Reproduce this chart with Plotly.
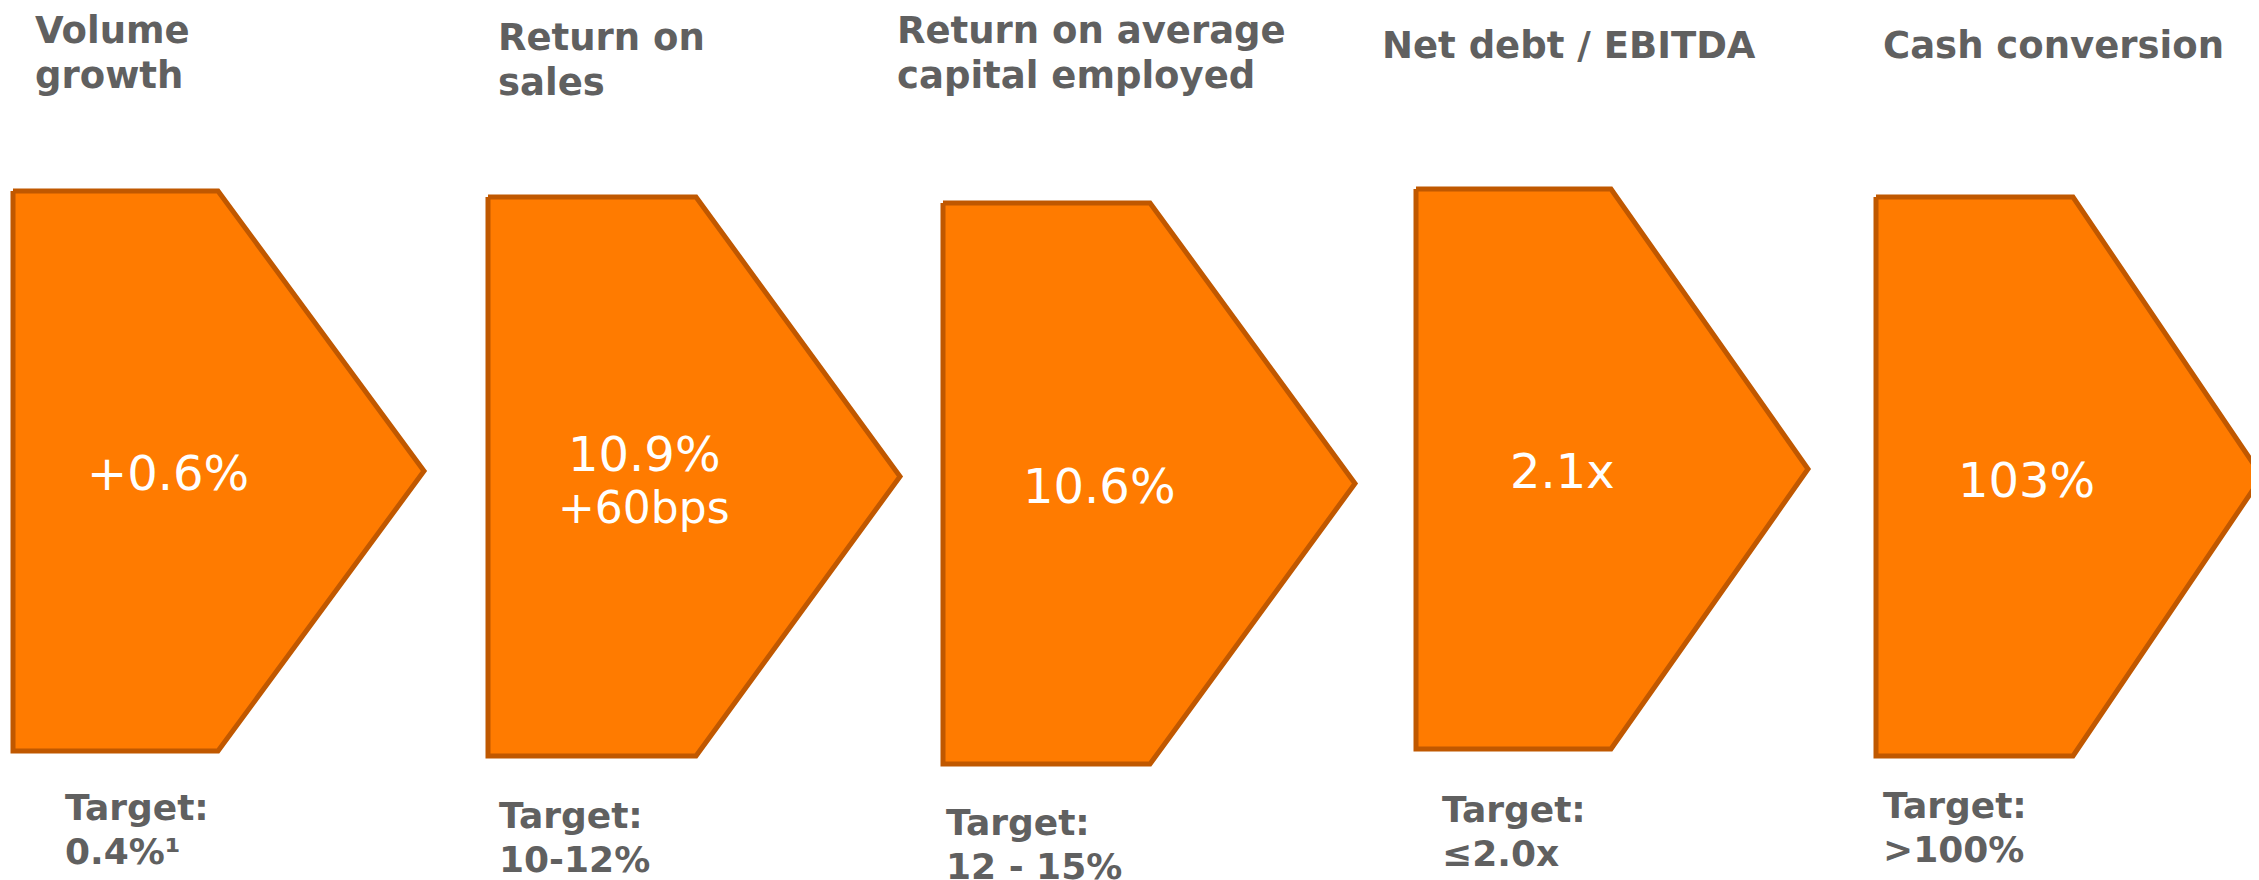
import plotly.graph_objects as go

# ---- data ----
titles = [["Volume", "growth"], ["Return on", "sales"], ["Return on average", "capital employed"],
          ["Net debt / EBITDA"], ["Cash conversion"]]
values = [["+0.6%"], ["10.9%", "+60bps"], ["10.6%"], ["2.1x"], ["103%"]]
targets = [["Target:", "0.4%¹"], ["Target:", "10-12%"], ["Target:", "12 - 15%"],
           ["Target:", "≤2.0x"], ["Target:", ">100%"]]

# ---- layout geometry (pixel space of the 2259x880 page) ----
W, H = 2259, 880
OFF = 8  # page body margin: figure is drawn 8px in from the page corner
lefts = [13, 488, 943, 1416, 1876]
tops = [191, 197, 203, 189, 197]
bottoms = [751, 756, 764, 749, 756]
shoulders = [218, 696, 1150, 1611, 2073]
tips = [424, 900, 1355, 1808, 2262]

title_x = [33, 496, 895, 1380, 1881]
title_base = [43, 50, 43, 58, 58]
target_x = [63, 497, 944, 1440, 1881]
target_base = [820, 828, 835, 822, 818]
value_cx = [168, 644, 1099, 1562, 2026]
value_base = [[490], [471, 523], [503], [488], [497]]
value_size = [48, 44]

FILL = "#FF7B00"
STROKE = "#C05800"
GRAY = "#606060"
FONT = "DejaVu Sans"
LINE_GAP = 45
TITLE_SIZE = 37
TARGET_SIZE = 36

fig = go.Figure()
for i in range(len(titles)):
    mid = (tops[i] + bottoms[i]) / 2
    xs = [lefts[i], shoulders[i], tips[i], shoulders[i], lefts[i], lefts[i]]
    ys = [tops[i], tops[i], mid, bottoms[i], bottoms[i], tops[i]]
    fig.add_trace(go.Scatter(x=xs, y=ys, mode="lines", fill="toself", fillcolor=FILL,
                             line=dict(color=STROKE, width=5), hoverinfo="skip",
                             showlegend=False))

ann = []
def add_text(x, baseline, text, size, color, weight, xanchor):
    ann.append(dict(x=x, y=baseline - 0.35 * size, xref="x", yref="y", text=text,
                    showarrow=False, xanchor=xanchor, yanchor="middle",
                    font=dict(family=FONT, size=size, color=color, weight=weight)))

for i in range(len(titles)):
    for j, line in enumerate(titles[i]):
        add_text(title_x[i], title_base[i] + j * LINE_GAP, line, TITLE_SIZE, GRAY, "bold", "left")
    for j, line in enumerate(targets[i]):
        add_text(target_x[i], target_base[i] + j * 44, line, TARGET_SIZE, GRAY, "bold", "left")
    for j, line in enumerate(values[i]):
        add_text(value_cx[i], value_base[i][j], line, value_size[j], "white", "normal", "center")

fig.update_layout(
    width=W, height=H, margin=dict(l=0, r=0, t=0, b=0),
    paper_bgcolor="white", plot_bgcolor="white",
    xaxis=dict(range=[OFF, W + OFF], visible=False, fixedrange=True),
    yaxis=dict(range=[H + OFF, OFF], visible=False, fixedrange=True),
    annotations=ann, showlegend=False,
)
fig.write_html("out.html")
